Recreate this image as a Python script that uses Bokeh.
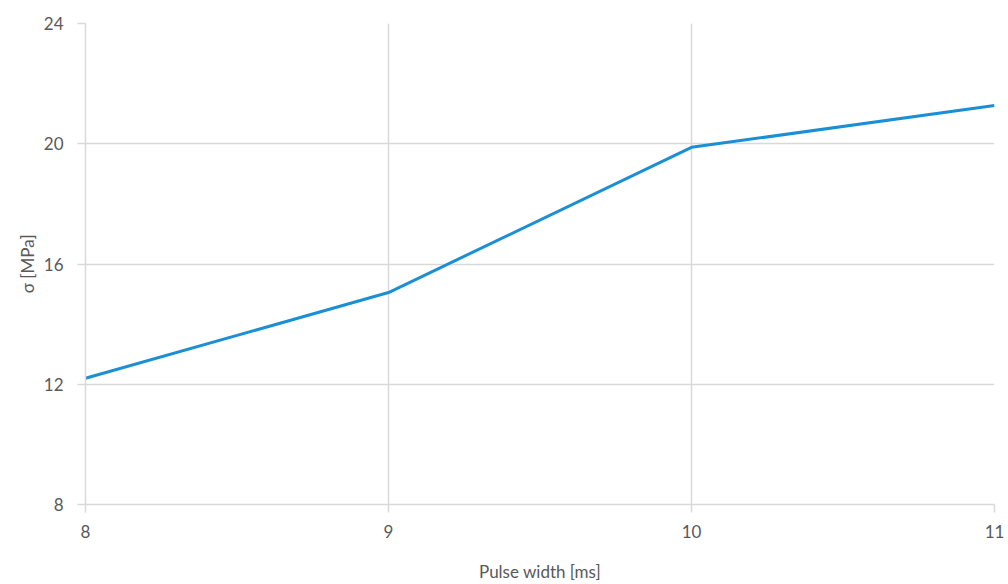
from bokeh.plotting import figure
from bokeh.models import FixedTicker, Range1d, ColumnDataSource
from bokeh.embed import file_html
from bokeh.resources import INLINE

pulse_width = [8, 9, 10, 11]
sigma = [12.2, 15.05, 19.88, 21.27]
x_ticks = [8, 9, 10, 11]
y_ticks = [8, 12, 16, 20, 24]

FONT = "Lato"
GRID = "#d9d9d9"
TXT = "#595959"

p = figure(width=1008, height=584, output_backend="svg", toolbar_location=None,
           x_range=Range1d(8, 11), y_range=Range1d(8, 24))
p.min_border_left = 85
p.min_border_right = 14
p.min_border_top = 23
p.min_border_bottom = 80
p.outline_line_color = None

src = ColumnDataSource(dict(x=pulse_width, y=sigma))
p.line("x", "y", source=src, line_color="#1b8fd6", line_width=3)

for ax in (p.xaxis[0], p.yaxis[0]):
    ax.axis_line_color = GRID
    ax.axis_line_width = 1.5
    ax.major_tick_line_color = GRID
    ax.major_tick_line_width = 1.5
    ax.major_tick_out = 8
    ax.major_tick_in = 0
    ax.minor_tick_line_color = None
    ax.major_label_text_font = FONT
    ax.major_label_text_font_size = "17px"
    ax.major_label_text_color = TXT
    ax.axis_label_text_font = FONT
    ax.axis_label_text_font_size = "17px"
    ax.axis_label_text_color = TXT
    ax.axis_label_text_font_style = "normal"

p.xaxis.ticker = FixedTicker(ticks=x_ticks)
p.yaxis.ticker = FixedTicker(ticks=y_ticks)
p.xaxis.axis_label = "Pulse width [ms]"
p.yaxis.axis_label = "σ [MPa]"
p.xaxis.major_label_standoff = 12
p.yaxis.major_label_standoff = 14
p.xaxis.axis_label_standoff = 20
p.yaxis.axis_label_standoff = 3

p.xgrid.ticker = FixedTicker(ticks=x_ticks)
p.ygrid.ticker = FixedTicker(ticks=y_ticks)
p.xgrid.grid_line_color = GRID
p.ygrid.grid_line_color = GRID
p.xgrid.grid_line_width = 1.5
p.ygrid.grid_line_width = 1.5

open("out.html", "w").write(file_html(p, INLINE))
